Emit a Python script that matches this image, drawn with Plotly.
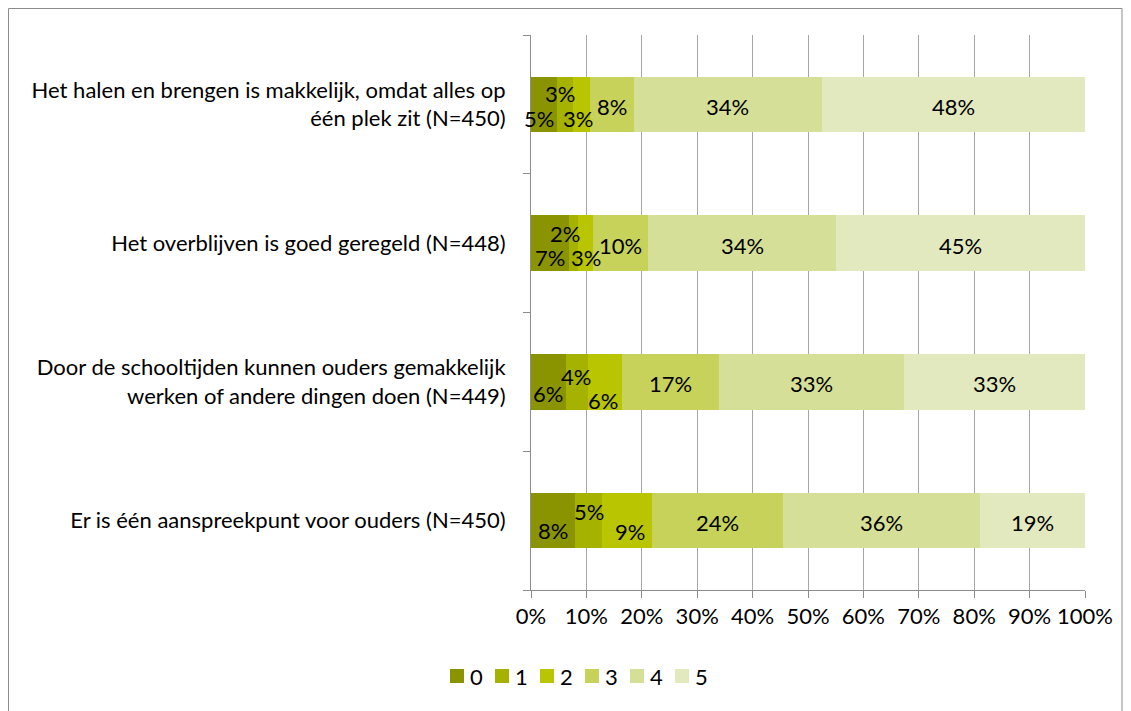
import plotly.graph_objects as go

categories = [
    "Het halen en brengen is makkelijk, omdat alles op<br>één plek zit (N=450)",
    "Het overblijven is goed geregeld (N=448)",
    "Door de schooltijden kunnen ouders gemakkelijk<br>werken of andere dingen doen (N=449)",
    "Er is één aanspreekpunt voor ouders (N=450)",
]
series_names = ["0", "1", "2", "3", "4", "5"]
values = [
    [4.7, 6.8, 6.3, 7.9],
    [2.9, 1.7, 4.0, 4.9],
    [3.0, 2.7, 6.1, 9.0],
    [8.0, 10.0, 17.5, 23.6],
    [33.9, 33.8, 33.4, 35.6],
    [47.5, 45.0, 32.7, 19.0],
]
labels = [
    ["5%", "7%", "6%", "8%"],
    ["3%", "2%", "4%", "5%"],
    ["3%", "3%", "6%", "9%"],
    ["8%", "10%", "17%", "24%"],
    ["34%", "34%", "33%", "36%"],
    ["48%", "45%", "33%", "19%"],
]
colors = ["#8a9400", "#a5b200", "#b9c500", "#c6d25a", "#d5df97", "#e2e9bf"]

# label nudges (x px, y px) so small segments don't collide, like the original
nudges = {
    (0, 0): (-5, -12), (1, 0): (-5, 13), (2, 0): (-3, -12),
    (0, 1): (0, -12), (1, 1): (-8, 12), (2, 1): (0, -12),
    (0, 2): (0, -10), (1, 2): (-1, 7), (2, 2): (-2, -17),
    (0, 3): (0, -8), (1, 3): (1, 11), (2, 3): (3, -9),
}

FONT = "Lato"
SIZE = 22

fig = go.Figure()
for i, name in enumerate(series_names):
    fig.add_trace(go.Bar(
        y=categories, x=values[i], name=name, orientation="h",
        marker=dict(color=colors[i], line=dict(width=0)),
        hoverinfo="skip", showlegend=False,
    ))

for j, cat in enumerate(categories):
    start = 0
    for i in range(len(series_names)):
        v = values[i][j]
        dx, dy = nudges.get((i, j), (0, 0))
        fig.add_annotation(
            x=start + v / 2, y=cat, text=labels[i][j], showarrow=False,
            xshift=dx, yshift=dy - 2,
            font=dict(size=SIZE, color="#000000", family=FONT),
        )
        start += v

# page has an 8px body margin; plot area in figure coords: x 523..1077, y 27..582
pw, ph = 554, 555
fig.add_shape(
    type="rect", xref="paper", yref="paper",
    x0=(0.5 - 523) / pw, x1=(1114 - 523) / pw,
    y0=(582 - 730) / ph, y1=(582 - 0.5) / ph,
    line=dict(color="#8c8c8c", width=1), fillcolor="rgba(0,0,0,0)", layer="below",
)

# legend: compact row of squares, as in the original
leg_y = (582 - 668) / ph
sq = 14
for i, name in enumerate(series_names):
    lx = 442 + 45 * i
    fig.add_shape(
        type="rect", xref="paper", yref="paper",
        x0=(lx - 523) / pw, x1=(lx + sq - 523) / pw,
        y0=leg_y - sq / 2 / ph, y1=leg_y + sq / 2 / ph,
        line=dict(width=0), fillcolor=colors[i],
    )
    fig.add_annotation(
        xref="paper", yref="paper", x=(lx + sq + 4 - 523) / pw, y=leg_y,
        xanchor="left", yanchor="middle", text=name, showarrow=False,
        font=dict(size=SIZE, color="#000000", family=FONT),
    )

fig.update_layout(
    barmode="stack",
    bargap=0.6,
    width=1131, height=711,
    margin=dict(l=523, r=54, t=27, b=129),
    paper_bgcolor="white", plot_bgcolor="white",
    font=dict(family=FONT, size=SIZE, color="#000000"),
    showlegend=False,
    xaxis=dict(
        range=[0, 100], tickvals=list(range(0, 101, 10)),
        ticktext=[f"{v}%" for v in range(0, 101, 10)],
        showgrid=True, gridcolor="#a6a6a6", gridwidth=1,
        showline=True, linecolor="#8c8c8c", linewidth=1,
        ticks="outside", ticklen=7, tickcolor="#8c8c8c",
        zeroline=False, fixedrange=True,
    ),
    yaxis=dict(
        type="category", categoryorder="array", categoryarray=categories[::-1],
        showline=True, linecolor="#8c8c8c", linewidth=1,
        ticks="outside", ticklen=7, tickcolor="#8c8c8c", tickson="boundaries",
        showgrid=False, ticklabelstandoff=20, fixedrange=True,
    ),
)

fig.write_html("out.html")
